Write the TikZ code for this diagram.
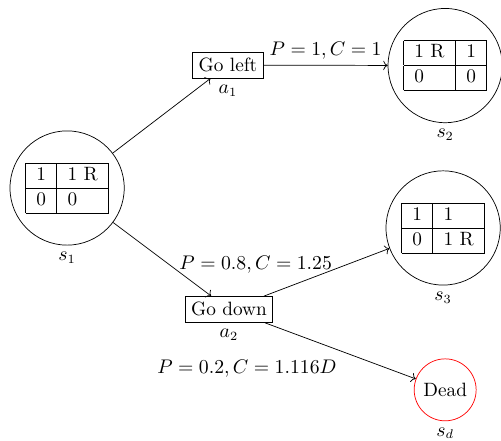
\documentclass[tikz,border=0pt]{standalone}
\usepackage{amsmath}
\usetikzlibrary{arrows.meta,positioning}
\renewcommand{\arraystretch}{1.05}

\begin{document}
\begin{tikzpicture}[every node/.style={font=\fontsize{10.7pt}{12.8pt}\selectfont},
  state/.style={draw, circle, minimum size=2.23cm, inner sep=0pt},
  act/.style={draw, rectangle, label distance=1.5pt}]
  \useasboundingbox (0,0) rectangle (9.78,8.59);
  % states
  \node[state, label=below:$s_1$] (s1) at (1.31,4.92) {\begin{tabular}{|c|l|}\hline 1 & 1 R\\ \hline 0 & 0\\ \hline\end{tabular}};
  \node[state, label=below:$s_2$] (s2) at (8.69,7.31) {\begin{tabular}{|l|c|}\hline 1 R & 1\\ \hline 0 & 0\\ \hline\end{tabular}};
  \node[state, label=below:$s_3$] (s3) at (8.65,4.14) {\begin{tabular}{|c|l|}\hline 1 & 1\\ \hline 0 & 1 R\\ \hline\end{tabular}};
  \node[state, draw=red, minimum size=1.21cm, label=below:$s_d$] (sd) at (8.69,0.98) {Dead};
  % actions
  \node[act, label=below:$a_1$] (a1) at (4.45,7.32) {Go left};
  \node[act, label=below:$a_2$] (a2) at (4.47,2.55) {Go down};
  \draw[->] (s1) -- (a1);
  \draw[->] (a1) -- (s2) node[midway, above] {$P = 1, C = 1$};
  \draw[->] (s1) -- (a2);
  \draw[->] (a2) -- (s3) node[pos=0, above=9pt, xshift=-4.7pt] {$P = 0.8, C = 1.25$};
  \draw[->] (a2) -- (sd) node[pos=0, below=17pt, xshift=-10pt] {$P = 0.2, C = 1.116D$};
\end{tikzpicture}
\end{document}
